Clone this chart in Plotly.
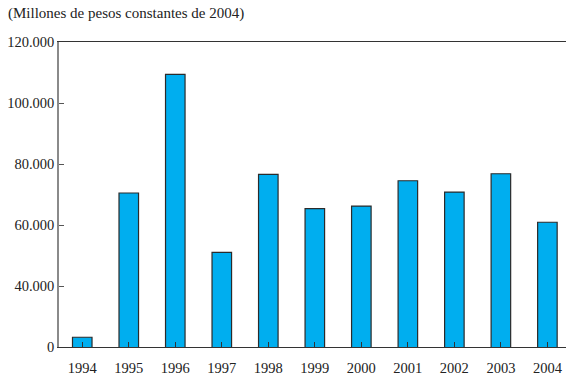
import plotly.graph_objects as go

# Investment by year, millions of constant 2004 pesos
years = ["1994", "1995", "1996", "1997", "1998", "1999",
         "2000", "2001", "2002", "2003", "2004"]
values = [23200, 70500, 109400, 51000, 76600, 65400,
          66200, 74500, 70800, 76800, 60900]

# Value axis ticks (the baseline tick carries the "0" label)
y_tickvals = [20000, 40000, 60000, 80000, 100000, 120000]
y_ticktext = ["0", "40.000", "60.000", "80.000", "100.000", "120.000"]

font_family = "Liberation Serif, Times New Roman, serif"

fig = go.Figure(
    go.Bar(
        x=list(range(len(years))),
        y=values,
        width=0.42,
        marker=dict(color="#00AEEF", line=dict(color="#2b2b2b", width=1.2)),
        hoverinfo="x+y",
    )
)

fig.update_layout(
    width=566,
    height=379,
    margin=dict(l=59, r=0, t=42, b=32),
    paper_bgcolor="white",
    plot_bgcolor="white",
    showlegend=False,
    font=dict(family=font_family, size=14.5, color="#222222"),
    annotations=[
        dict(
            text="(Millones de pesos constantes de 2004)",
            xref="paper", yref="paper",
            x=-0.104, y=1.095,
            xanchor="left", yanchor="middle",
            showarrow=False,
            font=dict(family=font_family, size=15, color="#222222"),
        )
    ],
)

fig.update_xaxes(
    range=[-0.5, 10.4],
    tickmode="array",
    tickvals=list(range(len(years))),
    ticktext=years,
    tickson="boundaries",
    ticks="inside",
    ticklen=5,
    tickcolor="#333333",
    ticklabelstandoff=7,
    showgrid=False,
    zeroline=False,
    showline=True,
    linecolor="#333333",
    linewidth=1.2,
    mirror=True,
)

fig.update_yaxes(
    range=[20000, 120000],
    tickmode="array",
    tickvals=y_tickvals,
    ticktext=y_ticktext,
    ticks="inside",
    ticklen=5,
    tickcolor="#555555",
    showgrid=False,
    zeroline=False,
    showline=True,
    linecolor="#8a8a8a",
    linewidth=1.5,
)

fig.write_html("out.html")
